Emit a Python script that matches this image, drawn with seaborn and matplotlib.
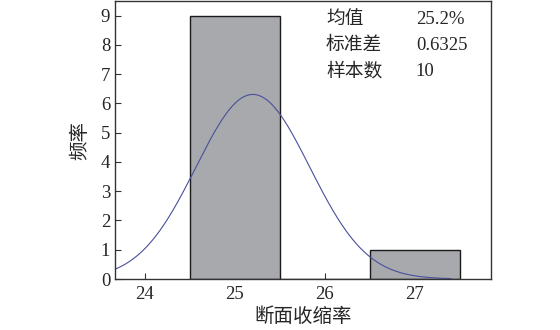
import numpy as np
import pandas as pd
import matplotlib
matplotlib.use("Agg")
import matplotlib.pyplot as plt
import seaborn as sns

# data
bin_centers = [25, 27]
counts = [9, 1]
bin_edges = [24.5, 25.5, 26.5, 27.5]
mean_val = 25.2
std_val = 0.6325
n_samples = 10
stat_labels = ["均值", "标准差", "样本数"]
stat_values = ["25.2%", "0.6325", "10"]
x_ticks = [24, 25, 26, 27]
y_ticks = list(range(10))

sns.set_style("ticks")
plt.rcParams['font.family'] = ['Liberation Serif', 'Noto Sans CJK SC']
plt.rcParams['xtick.direction'] = 'in'
plt.rcParams['ytick.direction'] = 'in'

fig = plt.figure(figsize=(5.6, 3.3), dpi=100)
ax = fig.add_axes([0.2054, 0.1545, 0.877 - 0.2054, 0.997 - 0.1545])

sns.histplot(x=bin_centers, weights=counts, bins=bin_edges, ax=ax,
             color="#a7a9ac", edgecolor="#1a1a1a", linewidth=1.0, alpha=1.0)

xs = np.linspace(23.667, 27.4, 300)
ys = n_samples * 1.0 / (std_val * np.sqrt(2 * np.pi)) * np.exp(-0.5 * ((xs - mean_val) / std_val) ** 2)
sns.lineplot(x=xs, y=ys, ax=ax, color="#4a4f9e", linewidth=0.8)

ax.set_xlim(23.667, 27.85)
ax.set_ylim(0, 9.5)
ax.set_xticks(x_ticks)
ax.set_yticks(y_ticks)
ax.tick_params(labelsize=13.5, length=4, width=0.8, color="#333333")
ax.tick_params(axis="x", pad=5)
for s in ax.spines.values():
    s.set_visible(True)
    s.set_color("#333333")
    s.set_linewidth(1.0)

ax.set_xlabel("断面收缩率", fontsize=14, labelpad=3)
ax.set_ylabel("频率", fontsize=14, labelpad=8)

ys_txt = [0.935, 0.84, 0.745]
for lab, val, yy in zip(stat_labels, stat_values, ys_txt):
    ax.text(0.561, yy, lab, transform=ax.transAxes, fontsize=13.5, va="center", ha="left")
    ax.text(0.80, yy, val, transform=ax.transAxes, fontsize=13.5, va="center", ha="left")

fig.savefig("out.png", dpi=100)
